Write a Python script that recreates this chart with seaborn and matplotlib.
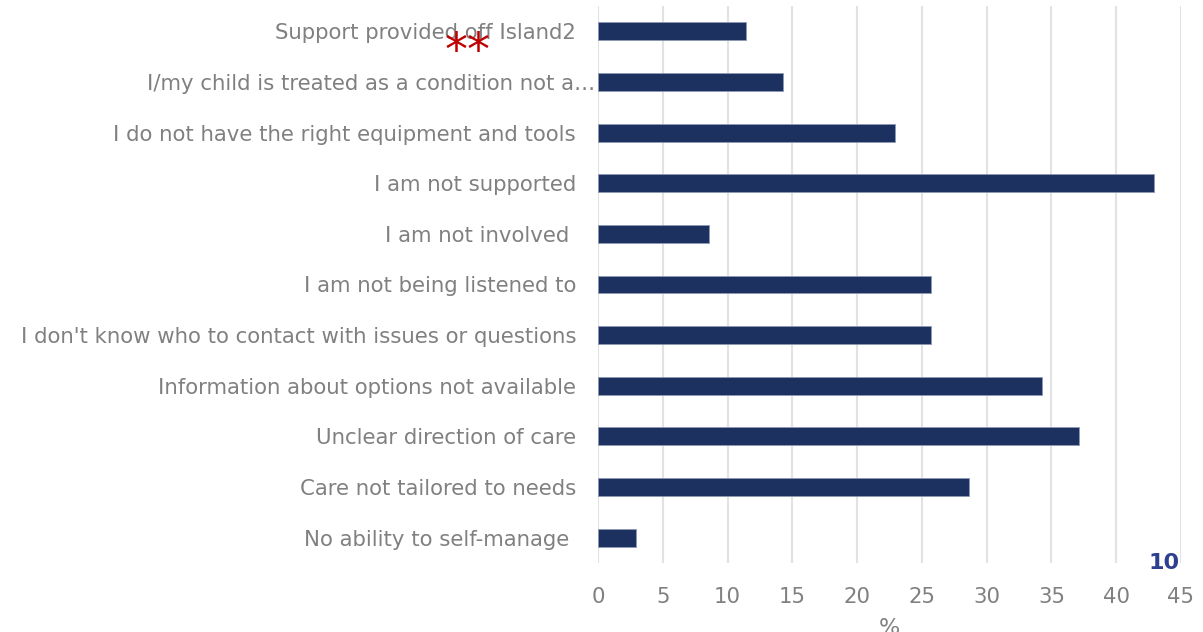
import matplotlib
matplotlib.use("Agg")
import matplotlib.pyplot as plt
import matplotlib.transforms as mtransforms
import seaborn as sns
import pandas as pd

# Reasons given, top to bottom
categories = [
    "Support provided off Island2",
    "I/my child is treated as a condition not a…",
    "I do not have the right equipment and tools",
    "I am not supported",
    "I am not involved ",
    "I am not being listened to",
    "I don't know who to contact with issues or questions",
    "Information about options not available",
    "Unclear direction of care",
    "Care not tailored to needs",
    "No ability to self-manage ",
]
percent = [11.4, 14.3, 22.9, 42.9, 8.6, 25.7, 25.7, 34.3, 37.1, 28.6, 2.9]
x_ticks = [0, 5, 10, 15, 20, 25, 30, 35, 40, 45]

df = pd.DataFrame({"reason": categories, "pct": percent})

sns.set_theme(style="white")
plt.rcParams["font.family"] = ["DejaVu Sans"]

BAR = "#1c3160"
GREY = "#808080"

fig = plt.figure(figsize=(12.03, 6.32), dpi=100)
ax = fig.add_axes([598 / 1203, 1 - 563 / 632, (1181 - 598) / 1203, (563 - 6) / 632])

sns.barplot(data=df, x="pct", y="reason", order=categories, color=BAR,
            saturation=1, width=0.355, edgecolor="#8e9ab5", linewidth=0.6,
            ax=ax, zorder=3)

ax.set_xlim(0, 45)
ax.set_xticks(x_ticks)
ax.set_xticklabels([str(t) for t in x_ticks])
ax.grid(axis="x", color="#e2e2e2", linewidth=1.5, zorder=0)
ax.grid(axis="y", visible=False)
for s in ax.spines.values():
    s.set_visible(False)

ax.tick_params(axis="y", length=0, pad=15.8, labelsize=15.3, labelcolor=GREY)
ax.tick_params(axis="x", length=0, pad=17, labelsize=15.3, labelcolor=GREY)
ax.set_ylabel("")
ax.set_xlabel("%", fontsize=16, color=GREY, labelpad=8)

# the truncated label runs closer to the axis
lbl = ax.get_yticklabels()[1]
lbl.set_transform(lbl.get_transform() + mtransforms.ScaledTranslation(19 / 100, 0, fig.dpi_scale_trans))

fig.text(468 / 1203, 1 - 52 / 632, "**", color="#c00000", fontsize=33,
         ha="center", va="center")
fig.text(1164 / 1203, 1 - 563 / 632, "10", color="#2e3f8f", fontsize=16,
         fontweight="bold", ha="center", va="center")

fig.savefig("out.png", dpi=100)
